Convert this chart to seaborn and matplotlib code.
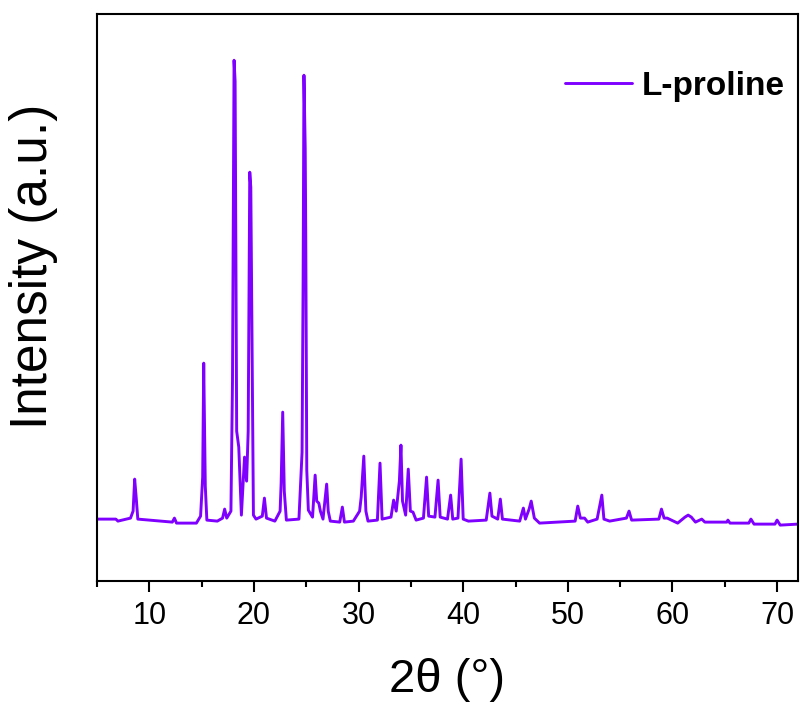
import matplotlib
matplotlib.use("Agg")
import matplotlib.pyplot as plt
import seaborn as sns
import pandas as pd
from matplotlib.ticker import MultipleLocator

two_theta = [
    5.0, 6.8, 7.0, 7.4, 8.2, 8.45, 8.6, 8.75, 8.9, 10.0,
    12.2, 12.4, 12.6, 14.5, 14.9, 15.1, 15.2, 15.35, 15.5, 16.5,
    17.0, 17.2, 17.4, 17.8, 17.95, 18.1, 18.2, 18.35, 18.55, 18.8,
    19.1, 19.3, 19.45, 19.6, 19.7, 19.85, 19.95, 20.2, 20.8, 21.0,
    21.2, 22.0, 22.5, 22.6, 22.75, 22.9, 23.1, 24.3, 24.6, 24.7,
    24.78, 24.9, 24.95, 25.05, 25.2, 25.6, 25.85, 26.0, 26.2, 26.35,
    26.6, 26.95, 27.1, 27.3, 28.2, 28.45, 28.65, 29.5, 30.1, 30.25,
    30.5, 30.7, 30.9, 31.8, 32.05, 32.25, 33.1, 33.35, 33.6, 33.9,
    34.05, 34.2, 34.5, 34.75, 34.95, 35.2, 35.5, 36.2, 36.5, 36.7,
    37.3, 37.6, 37.8, 38.5, 38.8, 39.0, 39.5, 39.8, 40.0, 40.5,
    42.2, 42.55, 42.75, 43.3, 43.55, 43.75, 45.4, 45.75, 45.95, 46.3,
    46.5, 46.8, 47.3, 50.7, 50.95, 51.2, 51.6, 51.9, 52.8, 53.25,
    53.45, 54.0, 55.6, 55.85, 56.1, 58.7, 58.95, 59.2, 59.5, 60.5,
    61.2, 61.5, 61.8, 62.2, 62.8, 63.1, 65.2, 65.3, 65.5, 67.3,
    67.5, 67.8, 69.8, 70.0, 70.3, 72.0,
]
intensity = [
    62, 62, 60, 61, 63, 70, 102, 83, 62, 61,
    59, 63, 58, 58, 65, 104, 218, 95, 61, 60,
    63, 72, 63, 70, 200, 521, 500, 150, 134, 66,
    124, 100, 150, 409, 394, 200, 66, 62, 65, 83,
    63, 60, 70, 98, 169, 90, 61, 62, 129, 300,
    506, 433, 351, 111, 71, 64, 106, 80, 78, 70,
    62, 97, 70, 60, 59, 74, 59, 60, 70, 84,
    125, 70, 60, 61, 118, 62, 64, 81, 70, 100,
    136, 80, 66, 112, 70, 69, 61, 63, 104, 65,
    64, 101, 64, 62, 86, 62, 63, 122, 62, 60,
    61, 88, 65, 62, 82, 62, 60, 73, 62, 72,
    80, 63, 58, 60, 75, 63, 63, 59, 62, 86,
    62, 60, 63, 70, 61, 62, 72, 63, 63, 58,
    64, 66, 64, 59, 62, 59, 59, 61, 58, 58,
    62, 57, 57, 61, 56, 57,
]
series_name = "L-proline"
x_ticks = [10, 20, 30, 40, 50, 60, 70]

df = pd.DataFrame({"2theta": two_theta, "I": intensity, "sample": series_name})

sns.set_style("ticks")
plt.rcParams["font.family"] = ["Liberation Sans", "DejaVu Sans"]
plt.rcParams["text.color"] = "black"
plt.rcParams["axes.labelcolor"] = "black"

fig = plt.figure(figsize=(8.05, 7.13), dpi=100)
ax = fig.add_axes([0.1205, 0.185, 0.8708, 0.795])

sns.lineplot(data=df, x="2theta", y="I", hue="sample", palette=["#7F00FF"],
             linewidth=2.1, ax=ax, estimator=None, sort=False)

ax.set_xlim(5, 72)
ax.set_ylim(0, 567)
ax.set_xticks(x_ticks)
ax.xaxis.set_minor_locator(MultipleLocator(5))
ax.set_yticks([])
ax.tick_params(axis="x", which="major", direction="out", length=8, width=1.5,
               labelsize=22, pad=6, colors="black", labelcolor="black")
ax.tick_params(axis="x", which="minor", direction="out", length=4.5, width=1.5,
               colors="black")
for s in ax.spines.values():
    s.set_visible(True)
    s.set_linewidth(1.5)
    s.set_color("black")

ax.set_xlabel("2θ (°)", fontsize=34, labelpad=20, color="black")
ax.set_ylabel("Intensity (a.u.)", fontsize=37, color="black")
ax.yaxis.set_label_coords(-0.055, 0.556)

leg = ax.legend(loc="center right", bbox_to_anchor=(1.0, 0.873), frameon=False,
                fontsize=24, handlelength=2.0, handletextpad=0.3,
                borderaxespad=0.0, borderpad=0.4)
for t in leg.get_texts():
    t.set_fontweight("bold")
    t.set_color("black")
for h in leg.get_lines():
    h.set_linewidth(2.1)

fig.savefig("out.png", dpi=100)
